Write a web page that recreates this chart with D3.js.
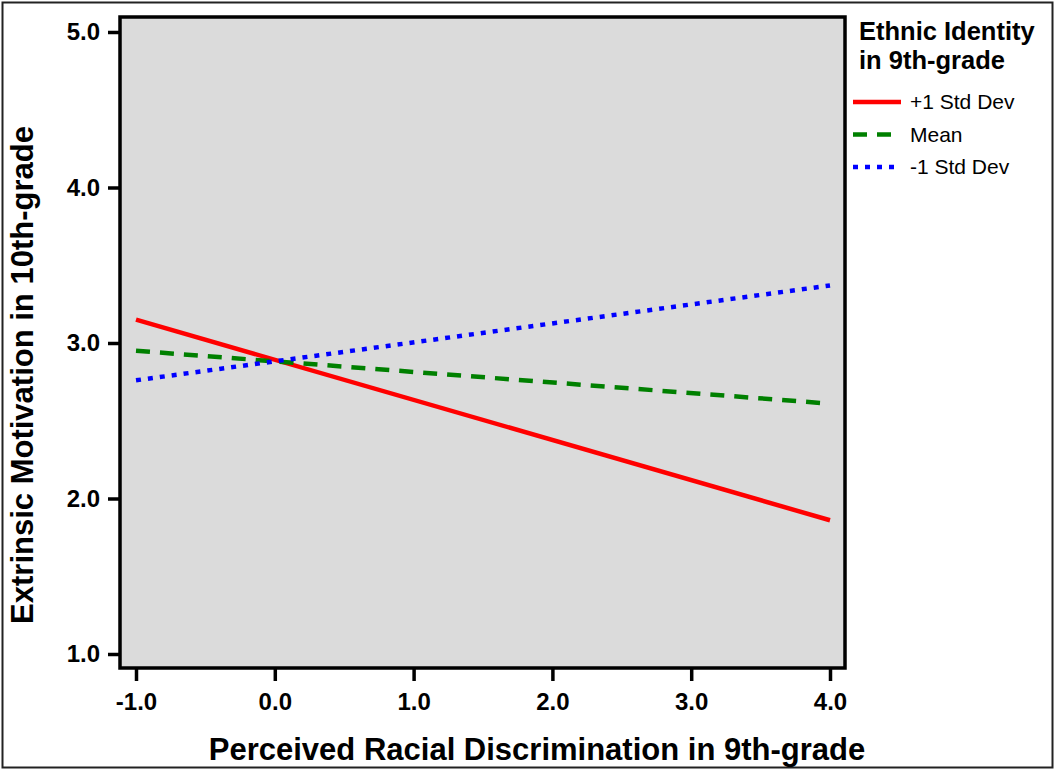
<!DOCTYPE html>
<html>
<head>
<meta charset="utf-8">
<script src="https://cdn.jsdelivr.net/npm/d3@7"></script>
<style>
  body { margin: 0; background: #fff; }
  text { font-family: "Liberation Sans", Arial, sans-serif; fill: #000; }
</style>
</head>
<body>
<script>
// x values where the simple slopes are drawn
const xPoints = [-1, 4];
// predicted extrinsic motivation at x = -1 and x = 4
const plusSD = [3.15, 1.86];
const meanSD = [2.95, 2.61];
const minusSD = [2.76, 3.37];
const seriesNames = ['+1 Std Dev', 'Mean', '-1 Std Dev'];
const xTicks = [-1, 0, 1, 2, 3, 4];
const yTicks = [1, 2, 3, 4, 5];

const w = 1055;
const h = 771;

const svg = d3.select('body')
  .append('svg')
  .attr('width', w)
  .attr('height', h);

// outer frame around the whole picture
svg.append('rect')
  .attr('x', 2.5).attr('y', 2.5)
  .attr('width', 1050).attr('height', 765)
  .attr('fill', 'none')
  .attr('stroke', '#222')
  .attr('stroke-width', 2);

const x = d3.scaleLinear().domain([-1, 4]).range([136, 830]);
const y = d3.scaleLinear().domain([1, 5]).range([654, 32]);

// plot box
const box = { left: 120, right: 845, top: 17, bottom: 668 };

svg.append('rect')
  .attr('x', box.left).attr('y', box.top)
  .attr('width', box.right - box.left)
  .attr('height', box.bottom - box.top)
  .attr('fill', '#dbdbdb');

// lines
const series = [
  { name: seriesNames[0], vals: plusSD, color: '#ff0000', dash: null },
  { name: seriesNames[1], vals: meanSD, color: '#008000', dash: '14,10' },
  { name: seriesNames[2], vals: minusSD, color: '#0000ff', dash: '5,7' }
];

const line = d3.line()
  .x((d, i) => x(xPoints[i]))
  .y(d => y(d));

svg.selectAll('path.series')
  .data(series)
  .enter()
  .append('path')
  .attr('class', 'series')
  .attr('d', d => line(d.vals))
  .attr('fill', 'none')
  .attr('stroke', d => d.color)
  .attr('stroke-width', 4.5)
  .attr('stroke-dasharray', d => d.dash);

// box border on top of lines
svg.append('rect')
  .attr('x', box.left).attr('y', box.top)
  .attr('width', box.right - box.left)
  .attr('height', box.bottom - box.top)
  .attr('fill', 'none')
  .attr('stroke', '#000')
  .attr('stroke-width', 3.5);

// plain hyphen for negatives, like the original
const fmt = d => d3.format('.1f')(d).replace('\u2212', '-');

// axes
const xAxis = d3.axisBottom(x)
  .tickValues(xTicks)
  .tickFormat(fmt)
  .tickSizeInner(13)
  .tickSizeOuter(0)
  .tickPadding(12);

const gx = svg.append('g')
  .attr('transform', `translate(0,${box.bottom})`)
  .call(xAxis);

const yAxis = d3.axisLeft(y)
  .tickValues(yTicks)
  .tickFormat(fmt)
  .tickSizeInner(12)
  .tickSizeOuter(0)
  .tickPadding(8);

const gy = svg.append('g')
  .attr('transform', `translate(${box.left},0)`)
  .call(yAxis);

[gx, gy].forEach(g => {
  g.select('.domain').remove();
  g.selectAll('.tick line').attr('stroke', '#000').attr('stroke-width', 3.5);
  g.selectAll('.tick text')
    .attr('fill', '#000')
    .style('font-family', '"Liberation Sans", Arial, sans-serif')
    .style('font-size', '24px')
    .style('font-weight', 'bold');
});

// axis titles
svg.append('text')
  .attr('x', (x(-1) + x(4)) / 2 + 54)
  .attr('y', 760)
  .attr('text-anchor', 'middle')
  .style('font-size', '31px')
  .style('font-weight', 'bold')
  .text('Perceived Racial Discrimination in 9th-grade');

svg.append('text')
  .attr('transform', `translate(33,${(y(1) + y(5)) / 2 + 32}) rotate(-90)`)
  .attr('text-anchor', 'middle')
  .style('font-size', '31px')
  .style('font-weight', 'bold')
  .text('Extrinsic Motivation in 10th-grade');

// legend
const legend = svg.append('g');

legend.append('text')
  .attr('x', 859).attr('y', 40)
  .style('font-size', '25.5px')
  .style('font-weight', 'bold')
  .text('Ethnic Identity');

legend.append('text')
  .attr('x', 859).attr('y', 69)
  .style('font-size', '25.5px')
  .style('font-weight', 'bold')
  .text('in 9th-grade');

const item = legend.selectAll('g.item')
  .data(series)
  .enter()
  .append('g')
  .attr('class', 'item')
  .attr('transform', (d, i) => `translate(0,${102 + i * 32.5})`);

item.append('line')
  .attr('x1', 853).attr('x2', 901)
  .attr('stroke', d => d.color)
  .attr('stroke-width', 4.5)
  .attr('stroke-dasharray', d => d.dash);

item.append('text')
  .attr('x', 910)
  .attr('y', 7)
  .style('font-size', '21px')
  .text(d => d.name);
</script>
</body>
</html>
